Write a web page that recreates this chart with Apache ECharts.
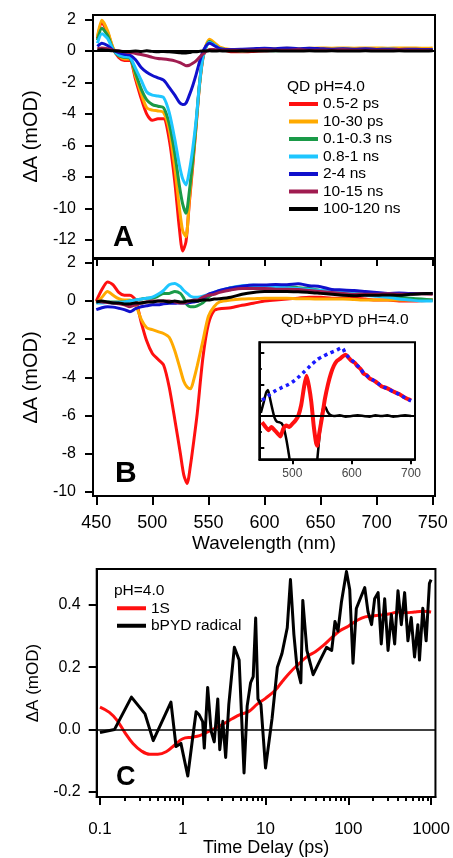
<!DOCTYPE html>
<html><head><meta charset="utf-8">
<script src="https://cdn.jsdelivr.net/npm/echarts@6/dist/echarts.min.js"></script>
<style>html,body{margin:0;padding:0;background:#fff}#c{width:453px;height:858px}</style>
</head><body><div id="c"></div>
<script>
const FONT = "'Liberation Sans', Arial, Helvetica, sans-serif";

// ---------- Panel A : QD pH=4.0 ----------
const namesA = ['0.5-2 ps','10-30 ps','0.1-0.3 ns','0.8-1 ns','2-4 ns','10-15 ns','100-120 ns'];
const colorsA = ['#ff1010','#ffaa00','#1a9a48','#1ec6ff','#1010cc','#a01c50','#000000'];
const wlA = [451,455,460,465,470,475,480,485,490,495,500,505,510,515,520,524,527,530,533,536,539,542,545,548,551,555,560,565,570,580,590,600,610,620,630,640,650,660,670,680,690,700,710,720,730,740,750];
const a_0_5_2ps = [0.8,1.8,1.2,0.15,-0.4,-0.6,-0.6,-1.8,-3.0,-4.0,-4.4,-4.3,-4.3,-5.6,-8.3,-11.2,-12.7,-12.1,-9.6,-7.3,-4.8,-2.2,-0.5,0.35,0.65,0.45,0.15,0.05,-0.05,-0.05,-0.02,0.02,0.05,0.05,0.08,0.1,0.1,0.12,0.1,0.1,0.12,0.1,0.1,0.12,0.1,0.1,0.1];
const a_10_30ps = [0.9,1.95,1.3,0.2,-0.3,-0.5,-0.5,-1.6,-2.7,-3.6,-3.75,-3.8,-3.9,-5.0,-7.4,-9.9,-11.4,-11.8,-9.4,-7.1,-4.7,-2.2,-0.45,0.4,0.75,0.55,0.25,0.15,0.1,0.1,0.12,0.15,0.15,0.18,0.15,0.18,0.2,0.18,0.2,0.18,0.2,0.2,0.18,0.2,0.2,0.18,0.2];
const a_0_1_0_3ns = [0.7,1.45,1.0,0.1,-0.3,-0.4,-0.45,-1.4,-2.4,-3.1,-3.4,-3.5,-3.6,-4.6,-6.5,-8.5,-9.7,-10.3,-8.9,-6.9,-4.6,-2.1,-0.4,0.3,0.6,0.4,0.15,0.1,0.05,0.0,0.05,0.05,0.02,0.05,0.05,0.08,0.05,0.05,0.08,0.05,0.05,0.08,0.05,0.05,0.05,0.08,0.05];
const a_0_8_1ns = [0.5,1.1,0.8,0.1,-0.25,-0.35,-0.4,-1.1,-1.85,-2.6,-2.8,-2.85,-2.95,-3.9,-5.6,-7.2,-8.1,-8.5,-7.6,-6.2,-4.4,-2.1,-0.4,0.3,0.55,0.4,0.15,0.1,0.08,0.05,0.08,0.1,0.1,0.12,0.1,0.12,0.1,0.1,0.12,0.1,0.1,0.1,0.12,0.1,0.1,0.1,0.1];
const a_2_4ns = [0.3,0.5,0.35,0.05,-0.1,-0.2,-0.25,-0.55,-1.05,-1.35,-1.55,-1.7,-1.85,-2.3,-2.8,-3.25,-3.4,-3.3,-2.8,-2.2,-1.5,-0.7,-0.05,0.35,0.5,0.35,0.15,0.1,0.1,0.12,0.15,0.18,0.15,0.2,0.15,0.18,0.15,0.12,0.15,0.12,0.15,0.1,0.12,0.1,0.12,0.1,0.1];
const a_10_15ns = [0.15,0.2,0.15,0.05,0.0,-0.05,-0.1,-0.15,-0.22,-0.3,-0.4,-0.47,-0.5,-0.55,-0.62,-0.72,-0.82,-0.93,-0.9,-0.78,-0.62,-0.4,-0.2,-0.02,0.1,0.1,0.05,0.05,0.05,0.05,0.05,0.08,0.05,0.05,0.08,0.05,0.05,0.05,0.08,0.05,0.05,0.05,0.05,0.08,0.05,0.05,0.05];
const a_100_120ns = [0.05,0.08,0.05,0.02,0.0,-0.02,-0.02,0.0,-0.03,0.02,-0.02,-0.05,-0.02,-0.05,-0.08,-0.1,-0.12,-0.12,-0.1,-0.05,-0.05,-0.02,0.0,0.0,0.02,0.0,0.02,0.0,0.0,0.02,0.0,0.0,0.02,0.0,0.0,0.02,0.0,0.02,0.0,0.0,0.02,0.0,0.0,0.02,0.0,0.0,0.02];
const seriesA = [a_0_5_2ps,a_10_30ps,a_0_1_0_3ns,a_0_8_1ns,a_2_4ns,a_10_15ns,a_100_120ns];

// ---------- Panel B : QD+bPYD pH=4.0 ----------
const wlB = [450,455,460,465,470,475,480,485,490,495,500,505,510,515,520,525,528,531,534,537,540,545,550,555,560,570,580,590,600,610,620,630,640,650,660,670,680,690,700,710,720,730,740,750];
const b_0_5_2ps = [0.0,0.6,1.0,0.85,0.45,0.3,0.3,0.05,-1.1,-2.1,-2.75,-3.05,-3.35,-4.5,-6.2,-8.0,-9.1,-9.55,-8.6,-7.3,-5.9,-3.0,-1.2,-0.5,-0.4,-0.35,-0.22,-0.12,0.0,0.05,0.1,0.15,0.2,0.2,0.15,0.15,0.15,0.1,0.05,0.05,0.0,0.0,0.02,0.05];
const b_10_30ps = [-0.1,0.2,0.5,0.3,0.12,0.05,0.05,-0.2,-0.95,-1.4,-1.5,-1.6,-1.7,-1.9,-2.6,-3.6,-4.2,-4.5,-4.6,-4.1,-3.4,-2.1,-0.8,-0.3,-0.05,0.05,0.1,0.12,0.15,0.15,0.15,0.12,0.12,0.1,0.1,0.1,0.08,0.05,0.05,0.05,0.05,0.05,0.05,0.05];
const b_0_1_0_3ns = [-0.05,-0.05,-0.05,-0.05,-0.05,-0.05,0.0,0.05,0.1,0.15,0.15,0.25,0.4,0.4,0.5,0.4,0.15,-0.2,-0.3,-0.3,-0.25,-0.1,0.2,0.4,0.5,0.7,0.75,0.8,0.8,0.78,0.75,0.7,0.65,0.55,0.5,0.45,0.4,0.35,0.3,0.25,0.2,0.15,0.1,0.05];
const b_0_8_1ns = [-0.1,-0.1,-0.08,-0.1,-0.08,-0.05,0.0,0.05,0.1,0.15,0.2,0.35,0.55,0.85,0.92,0.75,0.55,0.4,0.25,0.2,0.2,0.25,0.35,0.45,0.55,0.7,0.8,0.82,0.8,0.75,0.7,0.65,0.6,0.55,0.5,0.45,0.4,0.3,0.25,0.2,0.1,0.05,0.0,0.0];
const b_2_4ns = [-0.45,-0.35,-0.3,-0.32,-0.38,-0.45,-0.56,-0.4,-0.3,-0.25,-0.2,-0.2,-0.15,-0.12,-0.12,-0.1,-0.1,-0.1,-0.08,-0.05,-0.02,0.1,0.35,0.45,0.55,0.68,0.78,0.84,0.84,0.86,0.85,0.9,0.8,0.75,0.6,0.58,0.55,0.5,0.45,0.4,0.42,0.4,0.4,0.4];
const b_10_15ns = [0.0,-0.05,-0.08,-0.1,-0.15,-0.2,-0.3,-0.2,-0.1,-0.05,0.0,0.0,0.0,0.0,-0.05,-0.1,-0.1,-0.05,0.0,0.05,0.05,0.2,0.3,0.35,0.45,0.58,0.66,0.66,0.66,0.62,0.62,0.6,0.55,0.5,0.45,0.4,0.35,0.35,0.35,0.38,0.35,0.35,0.38,0.35];
const b_100_120ns = [-0.05,0.0,-0.05,-0.1,-0.1,-0.15,-0.15,-0.1,-0.1,-0.05,-0.05,0.0,0.0,-0.05,0.0,-0.05,-0.05,0.0,0.0,0.0,0.0,0.05,0.05,0.1,0.12,0.2,0.35,0.45,0.5,0.5,0.5,0.48,0.45,0.4,0.35,0.3,0.28,0.3,0.3,0.32,0.3,0.35,0.38,0.4];
const seriesB = [b_0_5_2ps,b_10_30ps,b_0_1_0_3ns,b_0_8_1ns,b_2_4ns,b_10_15ns,b_100_120ns];

// ---------- Inset (arbitrary units) ----------
const insetRedX = [449,455,460,465,470,475,480,485,490,495,500,505,510,515,520,524,528,532,536,540,542,545,550,555,560,565,570,575,580,585,590,595,600,605,610,615,620,625,630,640,650,660,670,680,690,700];
const insetRedY = [-0.2,-0.35,-0.45,-0.35,-0.45,-0.55,-0.65,-0.4,-0.3,-0.35,-0.25,-0.15,0.0,0.35,0.95,1.28,0.95,0.45,-0.3,-0.85,-0.95,-0.6,-0.05,0.55,1.0,1.35,1.6,1.75,1.82,1.9,1.95,1.85,1.75,1.7,1.58,1.5,1.35,1.3,1.2,1.1,0.95,0.88,0.78,0.7,0.58,0.5];
const insetBlueX = [449,455,465,475,485,495,505,515,525,535,545,555,565,575,583,590,600,610,620,630,640,650,660,670,680,690,700];
const insetBlueY = [0.5,0.58,0.72,0.84,0.93,1.02,1.15,1.32,1.5,1.68,1.83,1.93,2.02,2.1,2.17,1.98,1.78,1.6,1.38,1.22,1.1,0.96,0.87,0.78,0.69,0.58,0.48];
const insetBlackX = [447,452,456,459,462,466,470,474,478,482,486,490,494,498,505,520,535,541,545,549,552,555,559,563,570,580,590,600,610,620,630,640,650,660,670,680,690,700];
const insetBlackY = [0.1,0.45,0.75,0.83,0.6,0.25,-0.05,-0.18,-0.2,-0.23,-0.4,-0.75,-1.2,-1.7,-2.5,-3.5,-2.5,-1.6,-0.8,-0.05,0.25,0.3,0.15,0.05,0.0,0.02,-0.02,0.0,0.02,0.0,-0.02,0.02,0.0,0.02,-0.02,0.0,0.02,0.0];

// ---------- Panel C : kinetics ----------
const tRed = [0.1,0.13,0.16,0.2,0.25,0.32,0.4,0.5,0.63,0.8,1.0,1.3,1.6,2.0,2.5,3.2,4,5,6.3,8,10,13,16,20,25,32,40,50,63,80,100,130,160,200,250,320,400,500,630,800,1000];
const vRed = [0.072,0.055,0.03,-0.01,-0.045,-0.07,-0.08,-0.08,-0.072,-0.05,-0.03,-0.025,-0.02,-0.008,0.005,0.02,0.035,0.048,0.058,0.082,0.1,0.125,0.155,0.185,0.21,0.235,0.25,0.27,0.295,0.318,0.332,0.352,0.362,0.365,0.368,0.372,0.378,0.375,0.378,0.38,0.378];
const tBlack = [0.1,0.15,0.24,0.35,0.44,0.72,0.83,0.95,1.15,1.32,1.45,1.58,1.74,1.82,2.0,2.2,2.4,2.65,2.8,3.05,3.3,3.6,4.2,4.8,5.5,6.0,6.6,7.1,7.6,8.1,8.8,10,12,13.9,15.8,18.3,20,22,24,26.7,28.2,31.6,37.6,45.7,54.6,63,69,75,82.6,95,104,114,125,144,158,173,191,208,229,250,275,302,331,363,398,437,479,525,575,631,692,724,794,871,955,1000];
const vBlack = [-0.01,0.0,0.104,0.05,-0.036,0.088,-0.055,-0.045,-0.15,-0.025,0.057,0.047,0.025,-0.06,0.135,-0.005,-0.04,0.098,-0.065,0.026,-0.09,0.08,0.264,0.223,-0.14,0.075,0.15,0.17,0.358,0.098,0.08,-0.124,0.036,0.2,0.244,0.327,0.482,0.306,0.2,0.15,0.415,0.254,0.176,0.223,0.264,0.254,0.347,0.316,0.41,0.508,0.45,0.213,0.389,0.43,0.456,0.378,0.337,0.42,0.44,0.275,0.42,0.254,0.37,0.275,0.446,0.337,0.44,0.285,0.36,0.233,0.337,0.223,0.39,0.285,0.47,0.482];

// ---------- Tick values ----------
const ticksA_y = [-12,-10,-8,-6,-4,-2,0,2];
const ticksB_y = [-10,-8,-6,-4,-2,0,2];
const ticksB_x = [450,500,550,600,650,700,750];
const ticksInset_x = [500,600,700];
const ticksInset_yMajor = [-1,0,1,2];
const ticksInset_yMinor = [-0.5,0.5,1.5];
const ticksC_y = [-0.2,0,0.2,0.4];
const ticksC_x = [0.1,1,10,100,1000];
const ticksC_xMinor = [];
[0.1,1,10,100].forEach(d => { for (let k = 2; k <= 9; k++) ticksC_xMinor.push(+(d*k).toPrecision(3)); });

const pair = (xs, ys) => xs.map((x, i) => [x, ys[i]]);
const axLine = {show:false};
const tickStyle = {color:'#000', width:2};

const xAxes = [
  {gridIndex:0, type:'value', min:447.06, max:752.06, axisLine:axLine, axisTick:{show:false}, axisLabel:{show:false}, splitLine:{show:false}},
  {gridIndex:1, type:'value', min:447.06, max:752.06, position:'bottom',
    axisLine:{show:true, onZero:false, lineStyle:{color:'#000', width:2}},
    axisTick:{show:true, inside:false, length:9, lineStyle:tickStyle, customValues:ticksB_x},
    axisLabel:{show:true, customValues:ticksB_x, margin:18, fontSize:18, color:'#000', fontFamily:FONT},
    splitLine:{show:false}, name:'Wavelength (nm)', nameLocation:'middle', nameGap:38,
    nameTextStyle:{fontSize:19, color:'#000', fontFamily:FONT}},
  {gridIndex:1, type:'value', min:447.06, max:752.06, position:'top',
    axisLine:{show:false, onZero:false}, axisTick:{show:true, inside:true, length:7, lineStyle:tickStyle, customValues:ticksB_x},
    axisLabel:{show:false}, splitLine:{show:false}},
  {gridIndex:2, type:'value', min:444.4, max:706.7, position:'bottom',
    axisLine:{show:true, onZero:false, lineStyle:{color:'#000', width:2}},
    axisTick:{show:true, inside:false, length:5, lineStyle:tickStyle, customValues:ticksInset_x},
    axisLabel:{show:true, customValues:ticksInset_x, margin:8, fontSize:12, color:'#444', fontFamily:FONT},
    splitLine:{show:false}},
  {gridIndex:3, type:'log', logBase:10, min:0.0913, max:1129, position:'bottom',
    axisLine:{show:true, onZero:false, lineStyle:{color:'#000', width:2}},
    axisTick:{show:true, inside:false, length:8, lineStyle:tickStyle, customValues:ticksC_x},
    axisLabel:{show:true, customValues:ticksC_x, margin:24, fontSize:17, color:'#000', fontFamily:FONT,
      formatter: v => String(+(+v).toPrecision(6))},
    splitLine:{show:false}, name:'Time Delay (ps)', nameLocation:'middle', nameGap:35,
    nameTextStyle:{fontSize:18, color:'#000', fontFamily:FONT}},
  {gridIndex:3, type:'log', logBase:10, min:0.0913, max:1129, position:'bottom',
    axisLine:{show:false, onZero:false},
    axisTick:{show:true, inside:false, length:4, lineStyle:tickStyle, customValues:ticksC_xMinor},
    axisLabel:{show:false}, splitLine:{show:false}}
];

const yName = (size, gap) => ({name:'\u0394A (mOD)', nameLocation:'middle', nameGap:gap, nameTextStyle:{fontSize:size, color:'#000', fontFamily:FONT}});
const yAxes = [
  Object.assign({gridIndex:0, type:'value', min:-13.14, max:2.29,
    axisLine:{show:true, onZero:false, lineStyle:{color:'#000', width:2}},
    axisTick:{show:true, inside:false, length:8, lineStyle:tickStyle, customValues:ticksA_y},
    axisLabel:{show:true, customValues:ticksA_y, margin:17, fontSize:16, color:'#000', fontFamily:FONT},
    splitLine:{show:false}}, yName(20, 52)),
  Object.assign({gridIndex:1, type:'value', min:-10.21, max:2.2,
    axisLine:{show:true, onZero:false, lineStyle:{color:'#000', width:2}},
    axisTick:{show:true, inside:false, length:8, lineStyle:tickStyle, customValues:ticksB_y},
    axisLabel:{show:true, customValues:ticksB_y, margin:17, fontSize:16, color:'#000', fontFamily:FONT},
    splitLine:{show:false}}, yName(20, 52)),
  {gridIndex:2, type:'value', min:-1.379, max:2.347,
    axisLine:{show:true, onZero:false, lineStyle:{color:'#000', width:2}},
    axisTick:{show:true, inside:true, length:5, lineStyle:tickStyle, customValues:ticksInset_yMajor},
    axisLabel:{show:false}, splitLine:{show:false}},
  {gridIndex:2, type:'value', min:-1.379, max:2.347, position:'left',
    axisLine:{show:false, onZero:false},
    axisTick:{show:true, inside:true, length:2.5, lineStyle:tickStyle, customValues:ticksInset_yMinor},
    axisLabel:{show:false}, splitLine:{show:false}},
  Object.assign({gridIndex:3, type:'value', min:-0.2177, max:0.516,
    axisLine:{show:true, onZero:false, lineStyle:{color:'#000', width:2}},
    axisTick:{show:true, inside:false, length:8, lineStyle:tickStyle, customValues:ticksC_y},
    axisLabel:{show:true, customValues:ticksC_y, margin:16, fontSize:16, color:'#000', fontFamily:FONT,
      formatter: v => (+v).toFixed(1)},
    splitLine:{show:false}}, yName(17, 48))
];

const zeroLine = (w) => ({silent:true, symbol:['none','none'], label:{show:false}, animation:false,
  lineStyle:{type:'solid', color:'#000', width:w}, data:[{yAxis:0}]});

const series = [];
seriesA.forEach((vals, i) => {
  const s = {name:namesA[i], type:'line', xAxisIndex:0, yAxisIndex:0, data:pair(wlA, vals),
    showSymbol:false, symbol:'none', smooth:0.25, lineStyle:{color:colorsA[i], width:3}, itemStyle:{color:colorsA[i]}};
  if (i === 6) s.markLine = zeroLine(2);
  series.push(s);
});
seriesB.forEach((vals, i) => {
  series.push({name:'B ' + namesA[i], type:'line', xAxisIndex:1, yAxisIndex:1, data:pair(wlB, vals),
    showSymbol:false, symbol:'none', smooth:0.25, lineStyle:{color:colorsA[i], width:3}, itemStyle:{color:colorsA[i]}});
});
series.push({name:'inset black', type:'line', xAxisIndex:3, yAxisIndex:2, data:pair(insetBlackX, insetBlackY),
  showSymbol:false, symbol:'none', smooth:0.2, lineStyle:{color:'#000', width:2.5}, markLine:zeroLine(2)});
series.push({name:'inset red', type:'line', xAxisIndex:3, yAxisIndex:2, data:pair(insetRedX, insetRedY),
  showSymbol:false, symbol:'none', smooth:0.2, lineStyle:{color:'#ff1010', width:4}});
series.push({name:'inset blue', type:'line', xAxisIndex:3, yAxisIndex:2, data:pair(insetBlueX, insetBlueY),
  showSymbol:false, symbol:'none', smooth:0.4, lineStyle:{color:'#1a1aff', width:3.5, type:[3.5,3.5]}});
series.push({name:'1S', type:'line', xAxisIndex:4, yAxisIndex:4, data:pair(tRed, vRed),
  showSymbol:false, symbol:'none', smooth:0.4, lineStyle:{color:'#ff1010', width:3}, itemStyle:{color:'#ff1010'},
  markLine:zeroLine(1.5)});
series.push({name:'bPYD radical', type:'line', xAxisIndex:4, yAxisIndex:4, data:pair(tBlack, vBlack),
  showSymbol:false, symbol:'none', smooth:false, lineStyle:{color:'#000', width:3, join:'round'}, itemStyle:{color:'#000'}});

const legendCommon = {orient:'vertical', itemWidth:29, itemHeight:4, itemGap:0, padding:0, icon:'rect',
  selectedMode:false, textStyle:{fontSize:15.5, lineHeight:17.5, color:'#000', fontFamily:FONT}};

const txt = (text, x, y, size, bold) => ({type:'text', x:x, y:y, z:100,
  style:{text:text, fill:'#000', font:(bold ? 'bold ' : '') + size + 'px ' + FONT, verticalAlign:'middle', textVerticalAlign:'middle'}});

const option = {
  animation:false,
  backgroundColor:'#fff',
  grid:[
    {left:93, top:15, width:342, height:243, show:true, borderColor:'#000', borderWidth:2, backgroundColor:'transparent'},
    {left:93, top:259, width:342, height:237, show:true, borderColor:'#000', borderWidth:2, backgroundColor:'transparent'},
    {left:259.3, top:342.3, width:155.7, height:117, show:true, borderColor:'#000', borderWidth:2, backgroundColor:'#fff'},
    {left:96.7, top:569, width:341, height:236, show:true, borderColor:'#000', borderWidth:2, backgroundColor:'transparent'}
  ],
  xAxis:xAxes,
  yAxis:yAxes,
  legend:[
    Object.assign({data:namesA, left:289, top:95.25}, legendCommon),
    Object.assign({data:['1S','bPYD radical'], left:117, top:599.5}, legendCommon)
  ],
  graphic:[
    txt('QD pH=4.0', 287, 87, 15.5, false),
    txt('A', 113, 238, 29, true),
    txt('QD+bPYD pH=4.0', 281, 320, 15.5, false),
    txt('B', 115, 474, 30, true),
    txt('pH=4.0', 114, 591, 15.5, false),
    txt('C', 116, 778, 27, true)
  ],
  series:series
};

const chart = echarts.init(document.getElementById('c'), null, {renderer:'canvas'});
chart.setOption(option);
</script>
</body></html>
